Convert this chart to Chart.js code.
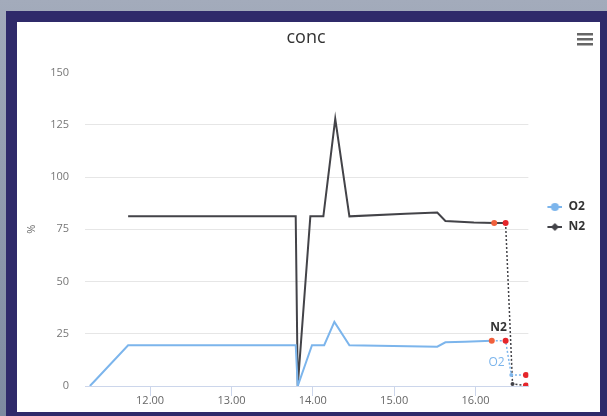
<!DOCTYPE html>
<html>
<head>
<meta charset="utf-8">
<script src="https://cdn.jsdelivr.net/npm/chart.js@4.4.0/dist/chart.umd.min.js"></script>
<style>
  body { margin: 0; width: 607px; height: 416px; background: linear-gradient(#a3abbb, #7d8aa0); overflow: hidden; }
  .frame { position: absolute; left: 6px; top: 11px; width: 601px; height: 405px; background: #2f2a6a; }
  .contents { position: absolute; left: 17px; top: 22px; width: 583px; height: 390px; background: #fff; }
</style>
</head>
<body>
<div class="frame"></div>
<div class="contents"><canvas id="conc_chart" width="583" height="390"></canvas></div>
<script>
// 時刻（時）と濃度（%）
const o2Times  = [11.26, 11.33, 11.73, 13.79, 13.815, 13.99, 14.14, 14.265, 14.45, 15.53, 15.63, 15.87, 16.2, 16.37, 16.44, 16.62];
const o2Values = [0, 2.9, 19.5, 19.5, 0, 19.5, 19.5, 30.7, 19.5, 18.8, 20.9, 21.2, 21.6, 21.6, 5.3, 5.3];
const n2Times  = [11.73, 13.79, 13.815, 13.97, 14.13, 14.276, 14.45, 15.14, 15.53, 15.63, 15.98, 16.23, 16.37, 16.455, 16.62];
const n2Values = [81.2, 81.2, 0, 81.2, 81.2, 127.9, 81.2, 82.5, 83, 79, 78.2, 78, 78, 1, 0.2];
const xTicks = [12, 13, 14, 15, 16];
const yTicks = [0, 25, 50, 75, 100, 125, 150];

const O2_COLOR = "#7cb5ec";
const N2_COLOR = "#434348";

function toPoints(times, values) {
  return times.map((t, i) => ({ x: t, y: values[i] }));
}

// last points: red markers, dotted tail
function pointColors(n, color) {
  return Array.from({ length: n }, (_, i) => {
    if (i === n - 4) return "#f0603c";
    if (i === n - 3 || i === n - 1) return "#e5262b";
    return color;
  });
}
function pointRadii(n) {
  return Array.from({ length: n }, (_, i) => {
    if (i === n - 4 || i === n - 3 || i === n - 1) return 3;
    if (i === n - 2) return 2;
    return 0;
  });
}

// legend symbol: short line with marker (drawn in the right part of the box)
function legendIcon(color, diamond) {
  const c = document.createElement("canvas");
  c.width = 26; c.height = 10;
  const g = c.getContext("2d");
  g.strokeStyle = color; g.lineWidth = 2;
  g.beginPath(); g.moveTo(11, 5); g.lineTo(26, 5); g.stroke();
  g.fillStyle = color;
  g.beginPath();
  if (diamond) {
    g.moveTo(18.5, 1); g.lineTo(22.5, 5); g.lineTo(18.5, 9); g.lineTo(14.5, 5);
  } else {
    g.arc(18.5, 5, 4, 0, Math.PI * 2);
  }
  g.fill();
  return c;
}
const o2Icon = legendIcon(O2_COLOR, false);
const n2Icon = legendIcon(N2_COLOR, true);

// ハンバーガーメニュー & ラベル
const extras = {
  id: "extras",
  afterDatasetsDraw(chart) {
    const ctx = chart.ctx;
    const meta = chart.getDatasetMeta(0);
    const p = meta.data[o2Times.length - 3];
    ctx.save();
    ctx.textAlign = "center";
    ctx.textBaseline = "middle";
    ctx.font = "bold 12px 'Open Sans', sans-serif";
    ctx.fillStyle = "#333";
    ctx.fillText("N2", p.x - 7, p.y - 13);
    ctx.font = "12px 'Open Sans', sans-serif";
    ctx.fillStyle = O2_COLOR;
    ctx.fillText("O2", p.x - 9, p.y + 22);
    ctx.restore();
  },
  afterDraw(chart) {
    const ctx = chart.ctx;
    ctx.save();
    ctx.fillStyle = "#666";
    for (let i = 0; i < 3; i++) {
      ctx.fillRect(560, 11 + i * 5, 16, 2.5);
    }
    ctx.restore();
  },
};

let context = document.querySelector("#conc_chart").getContext("2d");
new Chart(context, {
  type: "line",
  data: {
    datasets: [
      {
        label: "O2",
        data: toPoints(o2Times, o2Values),
        borderColor: O2_COLOR,
        backgroundColor: O2_COLOR,
        borderWidth: 2,
        pointRadius: pointRadii(o2Times.length),
        pointBackgroundColor: pointColors(o2Times.length, O2_COLOR),
        pointBorderWidth: 0,
        pointStyle: "circle",
        segment: {
          borderDash: (c) => (c.p0DataIndex >= o2Times.length - 4 ? [2, 2] : undefined),
          borderWidth: (c) => (c.p0DataIndex >= o2Times.length - 4 ? 1.5 : 2),
        },
      },
      {
        label: "N2",
        data: toPoints(n2Times, n2Values),
        borderColor: N2_COLOR,
        backgroundColor: N2_COLOR,
        borderWidth: 2,
        pointRadius: pointRadii(n2Times.length),
        pointBackgroundColor: pointColors(n2Times.length, N2_COLOR),
        pointBorderWidth: 0,
        pointStyle: "circle",
        segment: {
          borderDash: (c) => (c.p0DataIndex >= n2Times.length - 3 ? [2, 2] : undefined),
          borderWidth: (c) => (c.p0DataIndex >= n2Times.length - 3 ? 1.5 : 2),
        },
      },
    ],
  },
  options: {
    responsive: false,
    animation: false,
    layout: { padding: { right: 5 } },
    scales: {
      x: {
        type: "linear",
        min: 11.2,
        max: 16.65,
        afterFit: (s) => { s.height = 26; },
        afterBuildTicks: (s) => { s.ticks = xTicks.map((v) => ({ value: v })); },
        border: { color: "#ccd6eb", width: 1 },
        grid: { drawOnChartArea: false, drawTicks: true, tickLength: 10, color: "#ccd6eb" },
        ticks: {
          padding: -2,
          color: "#666",
          font: { size: 11, family: "'Open Sans', sans-serif" },
          callback: (v) => v.toFixed(2),
        },
      },
      y: {
        min: 0,
        max: 150,
        afterFit: (s) => { s.width = 68; },
        afterBuildTicks: (s) => { s.ticks = yTicks.map((v) => ({ value: v })); },
        border: { display: false },
        grid: {
          drawTicks: false,
          color: (c) => (c.tick && (c.tick.value === 150 || c.tick.value === 0) ? "rgba(0,0,0,0)" : "#e6e6e6"),
        },
        ticks: {
          padding: 16,
          color: "#777",
          font: { size: 11, family: "'Open Sans', sans-serif" },
        },
        title: {
          display: true,
          text: "%",
          color: "#666",
          padding: { top: 8, bottom: 0 },
          font: { size: 11, family: "'Open Sans', sans-serif" },
        },
      },
    },
    plugins: {
      title: {
        display: true,
        text: "conc",
        color: "#333",
        padding: { top: 5, bottom: 24 },
        font: { size: 18, weight: "normal", family: "'Open Sans', sans-serif" },
      },
      legend: {
        position: "right",
        labels: {
          usePointStyle: true,
          pointStyleWidth: 26,
          color: "#333",
          padding: 8,
          font: { size: 12, weight: "bold", family: "'Open Sans', sans-serif" },
          generateLabels: (chart) => {
            const items = Chart.defaults.plugins.legend.labels.generateLabels(chart);
            items[0].pointStyle = o2Icon;
            items[1].pointStyle = n2Icon;
            return items;
          },
        },
      },
      tooltip: { enabled: false },
    },
  },
  plugins: [extras],
});
</script>
</body>
</html>
